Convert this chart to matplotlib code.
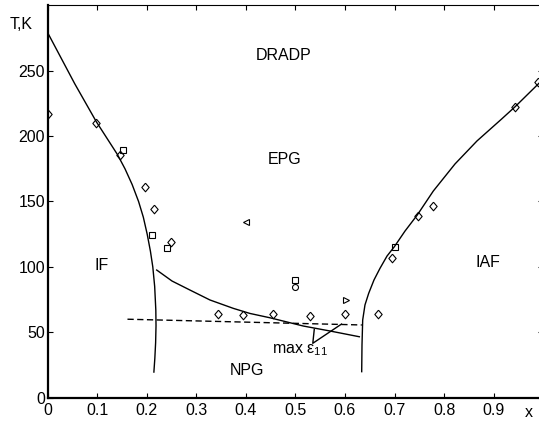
import numpy as np
import matplotlib
matplotlib.use("Agg")
import matplotlib.pyplot as plt

plt.rcParams['font.family'] = ['Liberation Sans', 'DejaVu Sans']
plt.rcParams['mathtext.fontset'] = 'custom'
plt.rcParams['mathtext.rm'] = 'Liberation Sans'
plt.rcParams['mathtext.it'] = 'Liberation Sans'

# phase boundary IF / DRADP-EPG (left)
left_x = [0.0, 0.0273, 0.0546, 0.0981, 0.1202, 0.1406, 0.156, 0.1704, 0.1834, 0.193,
          0.2008, 0.2073, 0.2121, 0.2159, 0.2182, 0.2186, 0.2178, 0.2162, 0.2143]
left_T = [279, 259.5, 240, 211, 198, 186, 175, 163, 150, 138,
          125, 112, 100, 85, 67, 55, 42, 30, 19.6]

# EPG / NPG boundary
mid_x = [0.22, 0.2509, 0.2871, 0.3275, 0.3746, 0.4083, 0.4486, 0.5158, 0.5697, 0.6289]
mid_T = [97.6, 89.2, 82.3, 74.7, 68.3, 64.4, 61.1, 54.8, 51.0, 46.6]

# dashed line
dash_x = [0.161, 0.634]
dash_T = [60, 55.6]

# phase boundary IAF (right)
right_x = [0.6337, 0.6343, 0.6357, 0.6403, 0.6478, 0.6585, 0.6706, 0.6848, 0.6995,
           0.7211, 0.7459, 0.7782, 0.822, 0.8664, 0.9162, 0.9437, 0.9915, 1.0]
right_T = [19.9, 40.3, 59.4, 70.9, 79.8, 90.0, 98.9, 108.3, 115.4,
           127.4, 139.7, 158.0, 178.7, 196.3, 213.1, 222.6, 240.4, 243.3]

# experimental points
dia_x = [0.0, 0.097, 0.146, 0.197, 0.215, 0.249, 0.343, 0.394, 0.454, 0.529, 0.6,
         0.667, 0.695, 0.748, 0.777, 0.944, 0.99]
dia_T = [217, 210, 185.5, 161, 144.5, 118.7, 64, 63, 64, 62.5, 64,
         64, 107, 139, 146.6, 222.5, 241]
sq_x = [0.151, 0.21, 0.24, 0.5, 0.7]
sq_T = [189, 124.4, 114.8, 90, 115.4]
circ_x = [0.5]
circ_T = [85]
tl_x = [0.4]
tl_T = [134.6]
tr_x = [0.602]
tr_T = [74.7]

# pointer for max eps11
ptr_x = [0.538, 0.535, 0.593]
ptr_T = [52.3, 41.6, 56.3]

labels = ["DRADP", "EPG", "IF", "IAF", "NPG"]
lab_x = [0.477, 0.479, 0.108, 0.889, 0.403]
lab_T = [261.3, 182, 100.8, 103.4, 20.6]

fig = plt.figure(figsize=(5.39, 4.21), dpi=100)
W, H = 539.0, 421.0
ax = fig.add_axes([47.7 / W, 1 - 397.7 / H, 495.5 / W, (397.7 - 5.3) / H])

lw = 1.0
ax.plot(left_x, left_T, 'k-', lw=lw)
ax.plot(mid_x, mid_T, 'k-', lw=lw)
ax.plot(dash_x, dash_T, 'k--', lw=lw, dashes=(4.5, 2.5))
ax.plot(right_x, right_T, 'k-', lw=lw)
ax.plot(ptr_x, ptr_T, 'k-', lw=lw)

diamond = [(0, 1), (0.85, 0), (0, -1), (-0.85, 0), (0, 1)]
mk = dict(ls='none', mfc='none', mec='k', mew=0.8)
ax.plot(dia_x, dia_T, marker=diamond, ms=6.2, **mk)
ax.plot(sq_x, sq_T, marker='s', ms=3.8, **mk)
ax.plot(circ_x, circ_T, marker='o', ms=4.3, **mk)
ax.plot(tl_x, tl_T, marker='<', ms=5, **mk)
ax.plot(tr_x, tr_T, marker='>', ms=5, **mk)

fs = 11.5
for s, x, y in zip(labels, lab_x, lab_T):
    ax.text(x, y, s, ha='center', va='center', fontsize=fs)

ax.text(0.452, 34, r'max $\varepsilon_{11}$', ha='left', va='baseline', fontsize=fs)
ax.text(-0.03, 285, 'T,K', ha='right', va='center', fontsize=fs)
ax.text(0.971, -14.5, 'x', ha='center', va='baseline', fontsize=fs)

ax.set_xlim(0, 1)
ax.set_ylim(0, 300)
ax.set_xticks(np.arange(0, 1.0, 0.1))
ax.set_xticklabels(['0', '0.1', '0.2', '0.3', '0.4', '0.5', '0.6', '0.7', '0.8', '0.9'])
ax.set_yticks([0, 50, 100, 150, 200, 250])
ax.tick_params(direction='in', length=3.6, width=0.8, top=True, right=True,
               labelsize=fs)
ax.tick_params(axis='x', pad=4)
ax.tick_params(axis='y', pad=2)
for side in ['left', 'bottom']:
    ax.spines[side].set_linewidth(1.6)
for side in ['top', 'right']:
    ax.spines[side].set_linewidth(0.8)

fig.savefig("out.png", dpi=100)
